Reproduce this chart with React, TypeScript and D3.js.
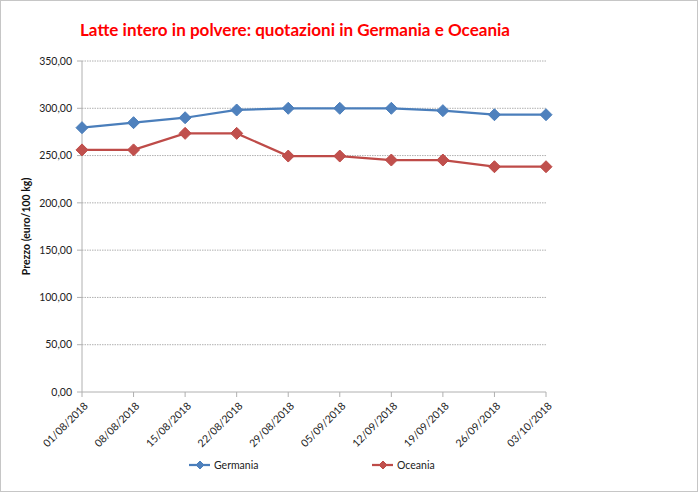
import React from 'react';
import * as d3 from 'd3';

const DATES = ['01/08/2018', '08/08/2018', '15/08/2018', '22/08/2018', '29/08/2018', '05/09/2018', '12/09/2018', '19/09/2018', '26/09/2018', '03/10/2018'];
const GERMANIA = [279.5, 284.8, 290, 298.2, 300, 300, 300, 297.5, 293.2, 293.2];
const OCEANIA = [256, 256, 273.5, 273.5, 249.5, 249.5, 245.3, 245.3, 238.2, 238.2];
const Y_TICKS = [0, 50, 100, 150, 200, 250, 300, 350];

const SERIES = [
  { name: 'Germania', values: GERMANIA, color: '#4a7ebb', fill: '#4f81bd', legendX: 189 },
  { name: 'Oceania', values: OCEANIA, color: '#be4b48', fill: '#c0504d', legendX: 372 },
];

const W = 698, H = 492;
const left = 82, right = 546, top = 61, bottom = 392;
const FONT = 'Lato, "Open Sans", sans-serif';

const fmt = (v: number) => d3.format('.2f')(v).replace('.', ',');

function Diamond({ x, y, fill, stroke, r = 6 }: { x: number; y: number; fill: string; stroke: string; r?: number }) {
  return <path d={`M${x},${y - r}L${x + r},${y}L${x},${y + r}L${x - r},${y}Z`} fill={fill} stroke={stroke} strokeWidth={1} />;
}

export default function App() {
  const x = d3.scalePoint<string>().domain(DATES).range([left, right]).padding(0);
  const y = d3.scaleLinear().domain([0, 350]).range([bottom, top]);
  const line = d3.line<number>().x((_, i) => x(DATES[i])!).y(d => y(d));

  return (
    <svg width={W} height={H} style={{ position: 'absolute', left: 0, top: 0, background: '#fff' }} fontFamily={FONT}>
      <rect x={0.5} y={0.5} width={W - 1} height={H - 1} fill="#fff" stroke="#8c8c8c" strokeDasharray="1,1" />
      <text x={80} y={36} fill="#ff0000" fontSize={17} fontWeight="bold" textLength={430} lengthAdjust="spacingAndGlyphs">
        Latte intero in polvere: quotazioni in Germania e Oceania
      </text>

      {Y_TICKS.map(t => (
        <g key={t}>
          {t > 0 && <line x1={left} x2={right} y1={y(t)} y2={y(t)} stroke="#b0b0b0" strokeDasharray="1.5,1" />}
          <line x1={left - 5} x2={left} y1={y(t)} y2={y(t)} stroke="#b0b0b0" />
          <text x={left - 10} y={y(t)} dy="0.35em" textAnchor="end" fontSize={10.5} fill="#222">{fmt(t)}</text>
        </g>
      ))}
      <line x1={left} x2={left} y1={top} y2={bottom} stroke="#b0b0b0" />
      <line x1={left} x2={right} y1={bottom} y2={bottom} stroke="#b0b0b0" />

      {DATES.map(d => (
        <g key={d}>
          <line x1={x(d)} x2={x(d)} y1={bottom} y2={bottom + 5} stroke="#b0b0b0" />
          <text transform={`translate(${x(d)! + 4},${bottom + 12}) rotate(-45)`} textAnchor="end" dy="0.35em" fontSize={10.5} fill="#222">{d}</text>
        </g>
      ))}

      <text transform={`translate(30,${(top + bottom) / 2}) rotate(-90)`} textAnchor="middle" fontSize={10.5} fontWeight="bold" fill="#111">
        Prezzo (euro/100 kg)
      </text>

      {SERIES.map(s => (
        <g key={s.name}>
          <path d={line(s.values)!} fill="none" stroke={s.color} strokeWidth={2.25} />
          {s.values.map((v, i) => (
            <Diamond key={i} x={x(DATES[i])!} y={y(v)} fill={s.fill} stroke={s.color} />
          ))}
        </g>
      ))}

      {SERIES.map(s => (
        <g key={s.name + '-leg'}>
          <line x1={s.legendX} x2={s.legendX + 21} y1={465} y2={465} stroke={s.color} strokeWidth={2.25} />
          <Diamond x={s.legendX + 11} y={465} fill={s.fill} stroke={s.color} r={4} />
          <text x={s.legendX + 25} y={465} dy="0.35em" fontSize={10.5} fill="#222">{s.name}</text>
        </g>
      ))}
    </svg>
  );
}
